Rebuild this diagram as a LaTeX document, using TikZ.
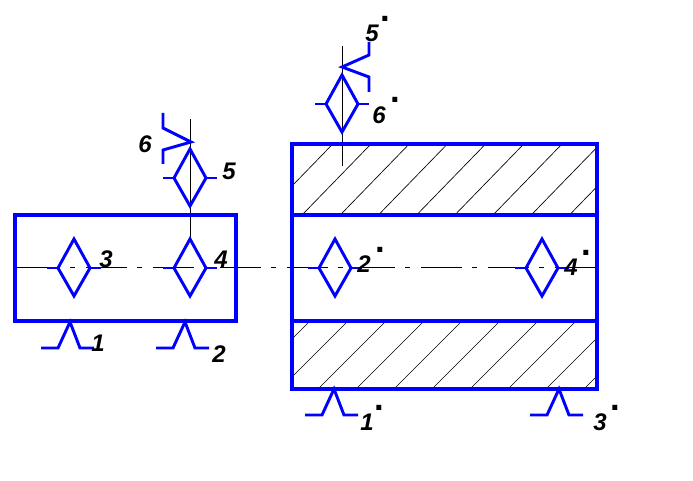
\documentclass[tikz,border=0pt]{standalone}
\usepackage{fontspec}
\setmainfont{Liberation Sans}
\definecolor{pureblue}{RGB}{0,0,255}
\tikzset{
  x=0.75pt,y=-0.75pt,
  frame/.style={draw=pureblue,line width=2.4pt,line join=miter},
  sym/.style={draw=pureblue,line width=2.2pt,line join=miter},
  thin line/.style={draw=black,line width=0.75pt},
  hatch/.style={draw=black,line width=0.5pt},
  lab/.style={inner sep=0pt,font=\fontsize{18}{18}\selectfont\bfseries\itshape},
  primedot/.style={inner sep=0pt,yshift=-1.5pt,font=\fontsize{26}{26}\selectfont\bfseries}
}
\newcommand{\bearing}[2]{% center x, center y
  \draw[sym] (#1,#2-29)--(#1+16,#2)--(#1,#2+28)--(#1-16,#2)--cycle;
  \draw[sym] (#1-27,#2)--(#1-16,#2) (#1+15,#2)--(#1+27,#2);
}
\newcommand{\support}[2]{% peak x, leg-side offset
  \draw[sym] (#1-29,#2)--(#1-12,#2)--(#1,#2-26)--(#1+10,#2)--(#1+24,#2);
}
\begin{document}
\begin{tikzpicture}
\useasboundingbox (0,0) rectangle (693,481);
\fill[white] (0,0) rectangle (693,481);
% hatching
\begin{scope}
  \clip (292,144) rectangle (597,215);
  \foreach \k in {-1,...,8}
    \draw[hatch] ({302+38.2*\k},215)--({371+38.2*\k},144);
\end{scope}
\begin{scope}
  \clip (292,321) rectangle (597,389);
  \foreach \k in {-2,...,7}
    \draw[hatch] ({318+38*\k},389)--({386+38*\k},321);
\end{scope}
% centre and axis lines
\draw[thin line] (15,268)--(19,268);
\draw[thin line,dash pattern=on 30.75pt off 7.5pt on 3.75pt off 8.25pt] (19,268)--(597,268);
\draw[thin line] (190,119)--(190,239);
\draw[thin line] (342,46)--(342,166);
% frames
\draw[frame] (15,215) rectangle (236,321);
\draw[frame] (292,144) rectangle (597,389);
\draw[frame] (292,215)--(597,215) (292,321)--(597,321);
% bearings
\bearing{74}{268}
\bearing{190}{268}
\bearing{190}{178}
\bearing{342}{104}
\bearing{335}{268}
\bearing{542}{268}
% supports
\support{70}{348}
\support{185}{348}
\support{334}{415}
\support{559}{415}
% arrows
\draw[sym] (163,113)--(163,128)--(191,142)--(163,150)--(163,164);
\draw[sym] (369,42)--(369,55)--(342,67)--(369,77)--(369,92);
% labels
\node[lab] (n6) at (145,144) {6};
\node[lab] (n5) at (229,171) {5};
\node[lab] (n3) at (106,259) {3};
\node[lab] (n4) at (221,259) {4};
\node[lab] (n1) at (98,343) {1};
\node[lab] (n2) at (219,354) {2};
\node[lab] (m5) at (372,33) {5};
\node[primedot] (d5) at (385,17) {.};
\node[lab] (m6) at (379,115) {6};
\node[primedot] (d6) at (395,98) {.};
\node[lab] (m2) at (364,264) {2};
\node[primedot] (d2) at (380,248) {.};
\node[lab] (m4) at (571,267) {4};
\node[primedot] (d4) at (586,251) {.};
\node[lab] (m1) at (367,422) {1};
\node[primedot] (d1) at (379,406) {.};
\node[lab] (m3) at (600,422) {3};
\node[primedot] (d3) at (615,406) {.};
\end{tikzpicture}
\end{document}
